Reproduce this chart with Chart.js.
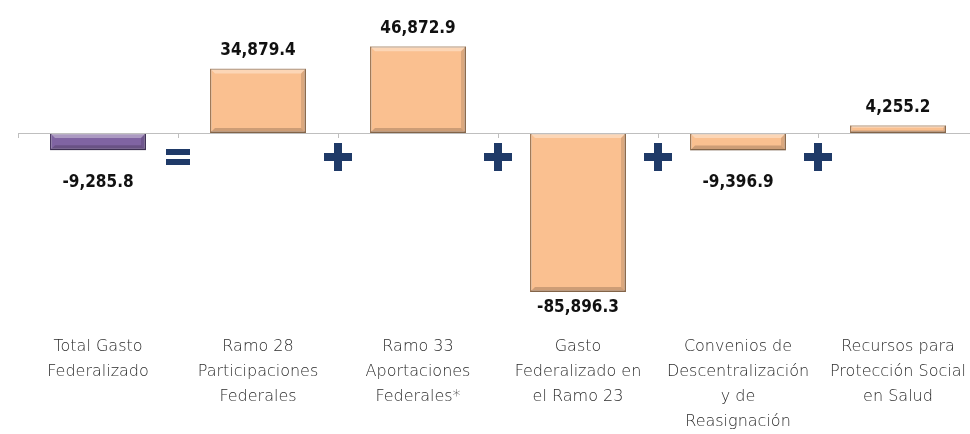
<!DOCTYPE html>
<html>
<head>
<meta charset="utf-8">
<script src="https://cdn.jsdelivr.net/npm/chart.js@4.4.1/dist/chart.umd.min.js"></script>
<style>
  html, body { margin: 0; padding: 0; background: #fff; overflow: hidden; }
  #wrap { position: absolute; left: 0; top: 0; width: 980px; height: 434px; }
</style>
</head>
<body>
<div id="wrap"><canvas id="myChart"></canvas></div>
<script>
// Data
const categories = [
    ["Total Gasto", "Federalizado"],
    ["Ramo 28", "Participaciones", "Federales"],
    ["Ramo 33", "Aportaciones", "Federales*"],
    ["Gasto", "Federalizado en", "el Ramo 23"],
    ["Convenios de", "Descentralización", "y de", "Reasignación"],
    ["Recursos para", "Protección Social", "en Salud"]
];
const values = [-9285.8, 34879.4, 46872.9, -85896.3, -9396.9, 4255.2];
const operators = ["=", "+", "+", "+", "+"];

const barColors = ["#8064A2", "#FAC090", "#FAC090", "#FAC090", "#FAC090", "#FAC090"];
const barBorders = ["#4B3A63", "#A07A58", "#A07A58", "#A07A58", "#A07A58", "#A07A58"];

function fmt(v) {
    return v.toLocaleString("en-US", { minimumFractionDigits: 1, maximumFractionDigits: 1 });
}

// bevel + value labels + operator signs
const extras = {
    id: "extras",
    afterDatasetsDraw(chart) {
        const ctx = chart.ctx;
        const meta = chart.getDatasetMeta(0);
        const xs = chart.scales.x;
        const ys = chart.scales.y;
        const zero = Math.round(ys.getPixelForValue(0));

        meta.data.forEach(function (bar, i) {
            const w = bar.width;
            const left = bar.x - w / 2;
            const top = Math.min(bar.y, bar.base);
            const h = Math.abs(bar.y - bar.base);
            const b = Math.min(5, h / 3);
            ctx.save();
            // light top bevel
            ctx.fillStyle = "rgba(255,255,255,0.35)";
            ctx.beginPath();
            ctx.moveTo(left, top);
            ctx.lineTo(left + w, top);
            ctx.lineTo(left + w - b, top + b);
            ctx.lineTo(left + b, top + b);
            ctx.closePath();
            ctx.fill();
            // dark bottom / right bevel
            ctx.fillStyle = "rgba(0,0,0,0.18)";
            ctx.beginPath();
            ctx.moveTo(left, top + h);
            ctx.lineTo(left + w, top + h);
            ctx.lineTo(left + w - b, top + h - b);
            ctx.lineTo(left + b, top + h - b);
            ctx.closePath();
            ctx.fill();
            ctx.fillStyle = "rgba(0,0,0,0.12)";
            ctx.beginPath();
            ctx.moveTo(left + w, top);
            ctx.lineTo(left + w, top + h);
            ctx.lineTo(left + w - b, top + h - b);
            ctx.lineTo(left + w - b, top + b);
            ctx.closePath();
            ctx.fill();
            ctx.restore();

            // value label
            const v = values[i];
            ctx.save();
            ctx.fillStyle = "#111";
            ctx.font = "bold 17px 'DejaVu Sans Condensed', 'Liberation Sans Narrow', sans-serif";
            ctx.textAlign = "center";
            ctx.textBaseline = "middle";
            const y = v >= 0 ? bar.y - 18 : bar.y + (h < 40 ? 32 : 16);
            ctx.fillText(fmt(v), bar.x, y);
            ctx.restore();
        });

        // operators between bars
        operators.forEach(function (op, i) {
            const x = (xs.getPixelForValue(i) + xs.getPixelForValue(i + 1)) / 2;
            const y = zero + 24;
            ctx.save();
            ctx.fillStyle = "#1F3A68";
            if (op === "=") {
                ctx.fillRect(x - 12, y - 8, 24, 6);
                ctx.fillRect(x - 12, y + 2, 24, 6);
            } else {
                ctx.fillRect(x - 14, y - 4, 28, 8);
                ctx.fillRect(x - 4, y - 14, 8, 28);
            }
            ctx.restore();
        });

        // zero line with small ticks
        ctx.save();
        ctx.strokeStyle = "#BFBFBF";
        ctx.lineWidth = 1;
        ctx.beginPath();
        ctx.moveTo(chart.chartArea.left, zero + 0.5);
        ctx.lineTo(chart.chartArea.right, zero + 0.5);
        for (let i = 0; i <= categories.length; i++) {
            const x = Math.round(xs.left + i * (xs.width / categories.length)) + 0.5;
            ctx.moveTo(x, zero);
            ctx.lineTo(x, zero + 5);
        }
        ctx.stroke();
        ctx.restore();
    }
};

const ctx = document.getElementById("myChart").getContext("2d");
const myChart = new Chart(ctx, {
    type: "bar",
    data: {
        labels: categories,
        datasets: [{
            data: values,
            backgroundColor: barColors,
            borderColor: barBorders,
            borderWidth: 1.5,
            borderSkipped: false,
            barPercentage: 0.6,
            categoryPercentage: 1.0
        }]
    },
    options: {
        responsive: true,
        maintainAspectRatio: false,
        animation: false,
        layout: { padding: { left: 18, right: 2, top: 0, bottom: 0 } },
        plugins: {
            legend: { display: false },
            tooltip: { enabled: false }
        },
        scales: {
            x: {
                position: "bottom",
                grid: { display: false },
                border: { display: false },
                afterFit: function (scale) { scale.height = 120; },
                ticks: {
                    color: "#2b2b2b",
                    maxRotation: 0,
                    autoSkip: false,
                    padding: 12,
                    font: { family: "DejaVu Sans", size: 16, weight: "200", lineHeight: 1.56 }
                }
            },
            y: {
                display: false,
                min: -97800,
                max: 71900
            }
        }
    },
    plugins: [extras]
});
</script>
</body>
</html>
